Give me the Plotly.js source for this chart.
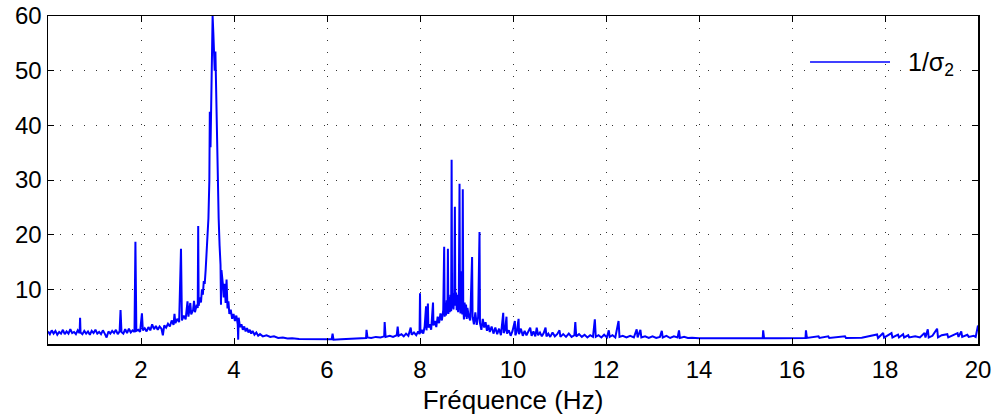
<!DOCTYPE html>
<html>
<head>
<meta charset="utf-8">
<script src="https://cdn.plot.ly/plotly-3.0.1.min.js"></script>
<style>
  html, body { margin: 0; padding: 0; background: #fff; }
  #chart { width: 996px; height: 419px; }
</style>
</head>
<body>
<div id="chart"></div>
<script>
// ---- Data (frequency in Hz, amplitude 1/sigma_2) ----
// Low band 0 - 3.3 Hz
const freqLow = [0.00,0.04,0.08,0.12,0.16,0.20,0.24,0.28,0.32,0.36,0.40,0.44,0.48,0.52,0.56,0.60,0.64,0.68,0.69,0.70,
  0.74,0.78,0.82,0.86,0.90,0.94,0.98,1.02,1.06,1.10,1.14,1.18,1.22,1.26,1.30,1.34,1.38,1.42,1.46,1.50,
  1.54,1.56,1.58,1.62,1.66,1.70,1.74,1.78,1.82,1.86,1.88,1.90,1.94,1.98,2.02,2.04,2.08,2.12,2.16,2.20,
  2.24,2.28,2.32,2.36,2.40,2.44,2.47,2.50,2.54,2.58,2.62,2.66,2.70,2.72,2.74,2.78,2.82,2.86,2.88,2.92,
  2.96,3.00,3.02,3.06,3.08,3.12,3.14,3.16,3.20,3.22,3.23,3.24,3.27,3.29];
const ampLow = [2.3,1.8,2.5,1.9,2.4,1.7,2.2,1.9,2.6,1.8,2.3,1.9,2.7,2.0,2.2,1.8,2.5,2.0,4.8,2.1,
  1.8,2.4,1.9,2.3,1.7,2.4,2.0,2.6,1.9,2.2,1.8,2.5,1.9,1.2,2.3,1.9,2.4,2.0,2.6,1.8,
  2.3,6.2,2.2,1.9,2.7,2.0,2.8,2.1,2.5,2.2,18.7,2.4,2.6,2.2,5.6,2.5,2.9,2.3,3.1,2.5,
  3.6,2.7,3.3,2.6,3.2,2.8,1.6,3.4,3.0,3.7,3.2,4.3,3.5,5.5,3.8,4.6,4.0,17.4,4.3,5.2,
  4.5,7.8,5.0,7.5,5.4,6.2,7.9,5.8,7.2,6.6,21.6,7.0,8.5,7.6];

// First resonance 3.3 - 4.5 Hz
const freqPeak1 = [3.31,3.33,3.35,3.37,3.39,3.41,3.43,3.45,3.47,3.48,3.495,3.51,3.525,3.54,3.555,3.57,3.585,3.60,3.615,3.63,
  3.65,3.67,3.69,3.71,3.72,3.73,3.76,3.78,3.80,3.82,3.84,3.86,3.88,3.90,3.93,3.96,3.99,4.02,4.05,4.08,
  4.09,4.10,4.13,4.16,4.19,4.22,4.25,4.28,4.31,4.34,4.37,4.40,4.44,4.48,4.52];
const ampPeak1 = [10.0,9.0,11.5,11.0,13.5,16.0,19.0,23.0,30.0,42.5,36.0,46.0,54.0,60.0,57.0,52.0,50.0,53.5,46.0,38.0,
  30.0,23.0,18.0,14.5,7.2,13.5,11.0,8.5,11.0,7.5,11.8,6.5,7.8,5.5,6.3,4.6,5.5,4.2,5.2,3.6,
  0.8,4.8,3.1,3.6,2.6,3.2,2.3,2.9,2.1,2.6,1.9,2.4,1.7,2.1,1.5];

// Quiet region 4.5 - 8 Hz
const freqMid = [4.56,4.62,4.70,4.78,4.86,4.95,5.05,5.15,5.25,5.40,5.55,5.70,5.85,6.00,6.10,6.12,6.14,6.30,6.45,6.60,
  6.75,6.84,6.85,6.87,6.95,7.05,7.15,7.23,7.24,7.26,7.35,7.42,7.50,7.52,7.54,7.60,7.65,7.70,7.75,7.80,
  7.82,7.87,7.92,7.96,7.99];
const ampMid = [1.8,1.4,1.6,1.3,1.4,1.1,1.2,1.0,1.05,0.9,0.9,0.85,0.85,0.8,0.85,1.9,0.8,0.85,0.9,0.95,
  1.0,1.1,2.6,1.2,1.1,1.3,1.2,1.4,4.0,1.3,1.5,1.3,1.6,3.2,1.5,1.8,1.4,1.9,1.5,3.0,
  1.7,2.1,1.6,2.3,1.8];

// Second resonance 8 - 10.2 Hz
const freqPeak2 = [8.00,8.01,8.04,8.07,8.10,8.13,8.14,8.17,8.18,8.21,8.24,8.28,8.29,8.32,8.35,8.38,8.41,8.44,8.47,8.50,
  8.52,8.53,8.545,8.56,8.575,8.59,8.60,8.61,8.625,8.64,8.655,8.67,8.68,8.69,8.705,8.72,8.735,8.75,8.76,8.775,
  8.79,8.805,8.82,8.835,8.85,8.86,8.87,8.88,8.89,8.90,8.91,8.92,8.93,8.945,8.96,8.975,8.99,9.005,9.02,9.05,
  9.08,9.12,9.13,9.16,9.19,9.22,9.25,9.28,9.29,9.32,9.35,9.38,9.41,9.44,9.47,9.50,
  9.54,9.58,9.62,9.66,9.70,9.74,9.79,9.80,9.83,9.86,9.87,9.91,9.95,9.99,10.04,10.05,10.08,10.12,10.13];
const ampPeak2 = [9.3,2.0,2.6,1.9,3.2,6.9,2.5,7.4,3.0,3.6,2.6,7.6,3.4,4.2,3.1,5.0,3.8,5.6,4.3,6.2,
  17.8,5.0,7.5,5.2,8.0,5.6,17.4,5.5,8.6,5.8,9.0,6.0,33.7,6.5,9.3,6.3,9.0,25.1,7.0,9.4,
  6.2,9.0,5.8,8.8,29.3,7.5,5.6,13.3,6.0,8.6,5.4,28.3,7.0,4.5,7.6,5.0,7.2,4.6,6.6,5.0,
  4.3,15.9,5.0,3.6,5.8,3.5,4.9,20.5,3.8,2.6,4.6,3.0,4.0,2.4,3.5,2.2,
  3.2,1.9,3.0,1.8,2.8,1.6,5.7,2.0,2.6,5.0,1.9,2.5,1.5,2.4,4.2,1.6,2.2,4.6,1.8];

// High band 10.2 - 20 Hz
const freqHigh = [10.17,10.21,10.25,10.29,10.33,10.37,10.40,10.44,10.48,10.51,10.54,10.58,10.62,10.66,10.70,10.72,10.76,10.80,10.85,10.90,
  10.95,11.00,11.02,11.08,11.14,11.20,11.26,11.32,11.34,11.36,11.42,11.48,11.54,11.60,11.66,11.72,11.76,11.78,11.84,11.90,
  11.96,12.02,12.06,12.08,12.14,12.20,12.27,12.29,12.36,12.44,12.52,12.60,12.66,12.68,12.74,12.76,12.84,12.92,13.00,13.08,
  13.16,13.20,13.22,13.30,13.38,13.46,13.54,13.57,13.59,13.68,13.76,13.85,14.00,14.30,14.60,14.90,15.20,15.37,15.38,15.40,
  15.70,16.00,16.29,16.30,16.32,16.57,16.59,16.78,16.80,17.14,17.16,17.50,17.83,17.85,17.96,17.98,18.05,18.14,18.16,18.28,
  18.30,18.39,18.41,18.50,18.52,18.65,18.75,18.85,18.87,18.92,18.94,19.02,19.12,19.14,19.22,19.34,19.36,19.46,19.56,19.58,
  19.64,19.66,19.77,19.80,19.91,19.95,20.00];
const ampHigh = [2.8,1.5,2.4,1.6,2.2,3.0,1.5,2.3,1.4,3.0,1.6,2.1,1.4,2.0,3.0,1.4,1.9,1.3,2.1,1.4,
  1.8,2.5,1.3,1.8,1.3,1.9,1.3,1.6,4.0,1.4,1.8,1.3,1.7,1.2,1.6,1.3,4.5,1.3,1.6,1.2,
  1.7,1.2,2.5,1.3,1.6,1.2,4.2,1.3,1.5,1.2,1.5,1.2,2.7,1.2,2.6,1.2,1.4,1.1,1.4,1.1,
  1.3,2.4,1.2,1.5,1.1,1.4,1.2,2.5,1.1,1.3,1.1,1.15,1.05,1.05,1.0,1.05,1.0,1.05,2.5,1.05,
  1.05,1.05,1.1,2.5,1.1,1.4,1.1,1.4,1.1,1.4,1.1,1.15,1.75,1.1,2.0,1.15,1.5,2.0,1.2,1.7,
  1.2,1.8,1.2,1.6,1.2,1.4,1.2,2.0,1.2,2.7,1.2,1.5,2.8,1.2,1.6,1.8,1.2,1.6,2.0,1.3,
  2.3,1.3,1.7,1.3,1.5,1.3,3.4];

// Axis ticks and labels
const xTicks = [2,4,6,8,10,12,14,16,18,20];
const yTicks = [10,20,30,40,50,60];
const xLabel = 'Fréquence (Hz)';
const seriesName = '1/σ<sub>2</sub>';

// ---- Build ----
const freq = [].concat(freqLow, freqPeak1, freqMid, freqPeak2, freqHigh);
const amp  = [].concat(ampLow, ampPeak1, ampMid, ampPeak2, ampHigh);

const FONT = 'Liberation Sans, Arial, Helvetica, sans-serif';

const trace = {
  x: freq, y: amp, type: 'scatter', mode: 'lines',
  name: seriesName,
  line: { color: '#0000ff', width: 2 },
  showlegend: false, hoverinfo: 'skip'
};

const axisCommon = {
  showline: true, linecolor: '#000', linewidth: 1.5, mirror: 'ticks',
  ticks: 'inside', ticklen: 6, tickwidth: 1, tickcolor: '#000',
  showgrid: true, gridcolor: '#333', gridwidth: 1, griddash: '1px,11px',
  zeroline: false, tickfont: { family: FONT, size: 24, color: '#000' }
};

const layout = {
  width: 996, height: 419,
  margin: { l: 48, r: 18, t: 16, b: 75 },
  paper_bgcolor: '#fff', plot_bgcolor: '#fff',
  xaxis: Object.assign({}, axisCommon, {
    range: [0, 20], tickmode: 'array', tickvals: xTicks, ticklabelstandoff: 4,
    title: { text: xLabel, font: { family: FONT, size: 26, color: '#000' }, standoff: 8 }
  }),
  yaxis: Object.assign({}, axisCommon, {
    range: [0, 60], tickmode: 'array', tickvals: yTicks
  }),
  shapes: [{
    type: 'line', xref: 'paper', yref: 'paper',
    x0: 0.8194, x1: 0.9054, y0: 0.86, y1: 0.86,
    line: { color: '#0000ff', width: 1.5 }
  }],
  annotations: [{
    xref: 'paper', yref: 'paper', x: 0.9227, y: 0.855,
    xanchor: 'left', yanchor: 'middle', showarrow: false,
    text: seriesName, font: { family: FONT, size: 25, color: '#000' }
  }]
};

Plotly.newPlot('chart', [trace], layout, { staticPlot: true, displayModeBar: false });
</script>
</body>
</html>
